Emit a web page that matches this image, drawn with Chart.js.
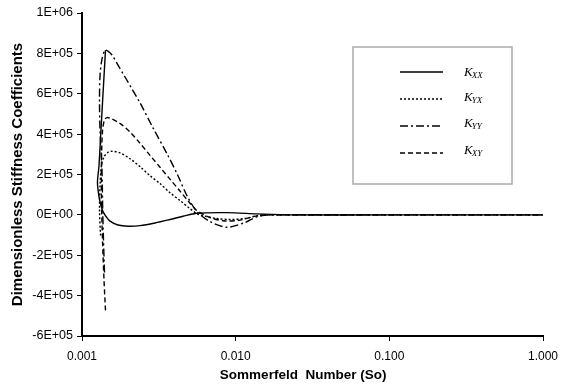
<!DOCTYPE html>
<html lang="en">
<head>
    <meta charset="UTF-8">
    <title>Dimensionless Stiffness Coefficients</title>
    <style>
        body {
            margin: 0;
            background-color: #ffffff;
        }
        .chart-box {
            width: 562px;
            height: 388px;
            position: relative;
        }
    </style>
    <script src="https://cdn.jsdelivr.net/npm/chart.js"></script>
</head>
<body>
    <div class="chart-box">
        <canvas id="stiffnessChart"></canvas>
    </div>

    <script>
        // Sommerfeld number (x) and coefficient (y)
        const kxxSo  = [1.422e-3, 1.339e-3, 1.290e-3, 1.261e-3, 1.290e-3, 1.329e-3, 1.370e-3, 1.433e-3, 1.521e-3, 1.715e-3, 1.992e-3, 2.385e-3, 2.985e-3, 3.737e-3, 4.541e-3, 5.601e-3, 8.777e-3, 1.376e-2, 2.256e-2, 0.1, 1.0];
        const kxxVal = [8.16e5, 4.66e5, 2.43e5, 1.60e5, 9.0e4, 4.6e4, 1.6e4, -8e3, -3.1e4, -5.0e4, -5.6e4, -5.3e4, -4.0e4, -2.3e4, -7e3, 8e3, 1.1e4, 5e3, 0, 0, 0];

        const kyxSo  = [1.320e-3, 1.300e-3, 1.310e-3, 1.339e-3, 1.391e-3, 1.476e-3, 1.567e-3, 1.767e-3, 2.052e-3, 2.385e-3, 2.770e-3, 3.218e-3, 3.737e-3, 4.341e-3, 5.043e-3, 5.601e-3, 6.315e-3, 7.523e-3, 9.180e-3, 1.150e-2, 1.397e-2, 1.802e-2, 0.1, 1.0];
        const kyxVal = [-1.02e5, 2.1e4, 1.45e5, 2.43e5, 2.88e5, 3.10e5, 3.15e5, 3.07e5, 2.78e5, 2.39e5, 1.94e5, 1.55e5, 1.10e5, 7.1e4, 3.1e4, 6e3, -6e3, -1.8e4, -2.3e4, -1.8e4, -3.5e3, 0, 0, 0];

        const kyySo  = [1.401e-3, 1.380e-3, 1.364e-3, 1.349e-3, 1.310e-3, 1.300e-3, 1.310e-3, 1.349e-3, 1.412e-3, 1.476e-3, 1.567e-3, 1.715e-3, 1.905e-3, 2.114e-3, 2.385e-3, 2.897e-3, 3.573e-3, 4.213e-3, 4.822e-3, 5.601e-3, 6.806e-3, 8.777e-3, 1.150e-2, 1.397e-2, 1.802e-2, 0.1, 1.0];
        const kyyVal = [-2.85e5, -1.27e5, 2.1e4, 2.19e5, 4.16e5, 5.64e5, 6.88e5, 7.72e5, 8.16e5, 8.11e5, 7.92e5, 7.42e5, 6.83e5, 6.24e5, 5.55e5, 4.31e5, 3.03e5, 1.94e5, 9.5e4, 1.6e4, -3.3e4, -6.1e4, -3.8e4, -8e3, 0, 0, 0];

        const kxySo  = [1.422e-3, 1.391e-3, 1.360e-3, 1.339e-3, 1.339e-3, 1.360e-3, 1.401e-3, 1.454e-3, 1.544e-3, 1.767e-3, 2.052e-3, 2.385e-3, 2.770e-3, 3.218e-3, 3.737e-3, 4.341e-3, 5.043e-3, 5.601e-3, 6.806e-3, 8.518e-3, 1.067e-2, 1.397e-2, 1.802e-2, 0.1, 1.0];
        const kxyVal = [-4.73e5, -3.24e5, -1.27e5, 7.1e4, 2.68e5, 4.16e5, 4.71e5, 4.82e5, 4.77e5, 4.53e5, 4.11e5, 3.55e5, 2.95e5, 2.36e5, 1.77e5, 1.18e5, 5.8e4, 2.1e4, -1.3e4, -3.0e4, -2.6e4, -3.5e3, 0, 0, 0];

        const seriesSubs = ['XX', 'YX', 'YY', 'XY'];
        const xTicks = [0.001, 0.01, 0.1, 1];

        function pts(xs, ys) {
            return xs.map((x, i) => ({ x: x, y: ys[i] }));
        }

        function sci(v) {
            if (v === 0) return '0E+00';
            const e = Math.floor(Math.log10(Math.abs(v)) + 1e-9);
            const m = Math.round(v / Math.pow(10, e));
            return m + 'E+' + String(e).padStart(2, '0');
        }

        // boxed legend with subscripts, drawn on the canvas
        const boxLegend = {
            id: 'boxLegend',
            afterDraw(chart) {
                const ctx = chart.ctx;
                const lineYs = [72, 99, 126, 153];
                const textYs = [72, 97, 123, 150];
                ctx.save();
                ctx.fillStyle = '#fff';
                ctx.strokeStyle = '#ababab';
                ctx.lineWidth = 1.5;
                ctx.fillRect(353, 47, 159, 137);
                ctx.strokeRect(353, 47, 159, 137);
                chart.data.datasets.forEach((ds, i) => {
                    ctx.setLineDash(ds.borderDash || []);
                    ctx.strokeStyle = '#000';
                    ctx.lineWidth = 1.5;
                    ctx.beginPath();
                    ctx.moveTo(400, lineYs[i]);
                    ctx.lineTo(443, lineYs[i]);
                    ctx.stroke();
                    ctx.setLineDash([]);
                    ctx.fillStyle = '#000';
                    ctx.textBaseline = 'alphabetic';
                    ctx.textAlign = 'left';
                    ctx.font = 'italic 13px "Liberation Serif", serif';
                    ctx.fillText('K', 464, textYs[i] + 4);
                    const kw = ctx.measureText('K').width;
                    ctx.font = 'italic 9px "Liberation Serif", serif';
                    ctx.fillText(seriesSubs[i], 464 + kw - 1, textYs[i] + 6);
                });
                ctx.restore();
            }
        };

        Chart.defaults.font.family = '"Liberation Sans", Arial, sans-serif';
        Chart.defaults.color = '#000';

        const ctx = document.getElementById('stiffnessChart').getContext('2d');

        new Chart(ctx, {
            type: 'scatter',
            data: {
                datasets: [
                    { label: 'KXX', data: pts(kxxSo, kxxVal), borderDash: [] },
                    { label: 'KYX', data: pts(kyxSo, kyxVal), borderDash: [2, 2] },
                    { label: 'KYY', data: pts(kyySo, kyyVal), borderDash: [8, 3, 2, 3] },
                    { label: 'KXY', data: pts(kxySo, kxyVal), borderDash: [5, 3] }
                ].map(ds => Object.assign(ds, {
                    showLine: true,
                    borderColor: '#000',
                    backgroundColor: '#000',
                    borderWidth: 1.4,
                    pointRadius: 0,
                    tension: 0.3,
                    fill: false
                }))
            },
            options: {
                responsive: true,
                maintainAspectRatio: false,
                animation: false,
                layout: { padding: { left: 0, right: 19, top: 13, bottom: 0 } },
                plugins: {
                    legend: { display: false },
                    tooltip: { enabled: false }
                },
                scales: {
                    x: {
                        type: 'logarithmic',
                        min: 0.001,
                        max: 1,
                        afterBuildTicks: (scale) => {
                            scale.ticks = xTicks.map(v => ({ value: v }));
                        },
                        afterFit: (scale) => {
                            scale.height = 52;
                            // keep the last label from pushing the plot edge in
                            scale.paddingRight = 0;
                            scale.paddingLeft = 0;
                        },
                        ticks: {
                            autoSkip: false,
                            maxRotation: 0,
                            padding: 8,
                            font: { size: 12 },
                            callback: (v) => Number(v).toFixed(3)
                        },
                        grid: { drawOnChartArea: false, drawTicks: true, tickLength: 5, color: '#000', lineWidth: 1 },
                        border: { color: '#000', width: 2 },
                        title: {
                            display: true,
                            // trailing spaces nudge the title a little left, like the original
                            text: 'Sommerfeld  Number (So)     ',
                            font: { size: 13.5, weight: 'bold' },
                            padding: { top: 0, bottom: 5 }
                        }
                    },
                    y: {
                        min: -6e5,
                        max: 1e6,
                        afterFit: (scale) => { scale.width = 82; },
                        ticks: {
                            stepSize: 2e5,
                            padding: 4,
                            font: { size: 12.5 },
                            callback: (v) => sci(v)
                        },
                        grid: { drawOnChartArea: false, drawTicks: true, tickLength: 5, color: '#000', lineWidth: 1 },
                        border: { color: '#000', width: 2 },
                        title: {
                            display: true,
                            text: 'Dimensionless Stiffness Coefficients',
                            font: { size: 15, weight: 'bold' },
                            padding: { top: 9, bottom: 0 }
                        }
                    }
                }
            },
            plugins: [boxLegend]
        });
    </script>
</body>
</html>
